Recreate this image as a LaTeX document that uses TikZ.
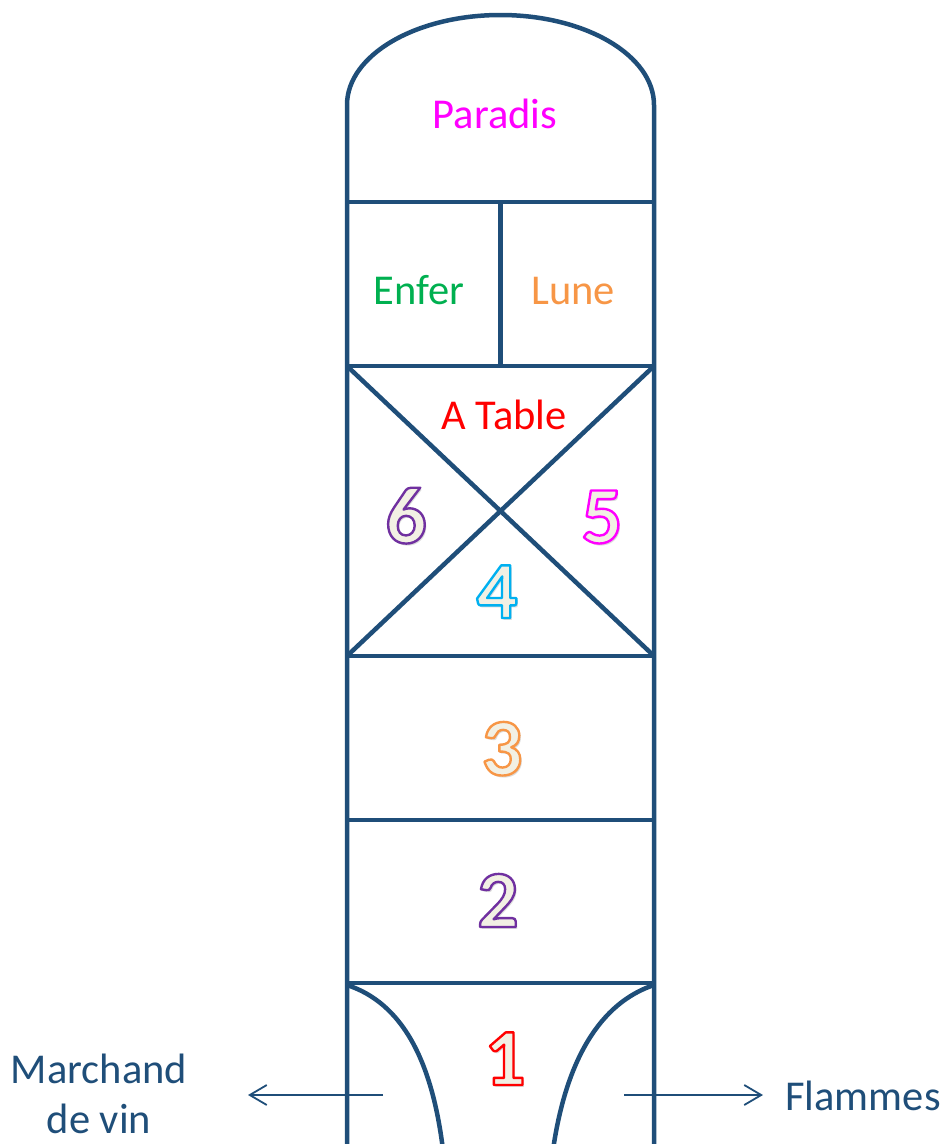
\documentclass[tikz,border=0pt]{standalone}
\usepackage{fontspec}
\setmainfont{Carlito}
\usetikzlibrary{calc,arrows.meta}
\definecolor{lineblue}{HTML}{1F4E79}
\definecolor{cream}{HTML}{F2F0E4}
\definecolor{cmag}{HTML}{FF00FF}
\definecolor{cgreen}{HTML}{00B050}
\definecolor{corange}{HTML}{F79646}
\definecolor{cred}{HTML}{FF0000}
\definecolor{cpurple}{HTML}{7030A0}
\definecolor{cblue}{HTML}{00B0F0}
\tikzset{
  frame/.style={draw=lineblue, line width=4.5pt, line join=round},
  lbl/.style={font=\fontsize{42.5}{50}\selectfont, anchor=base, inner sep=0pt},
  side/.style={font=\fontsize{42.5}{50}\selectfont, text=lineblue, align=center, inner sep=0pt},
  digit/.style={font=\bfseries\fontsize{81}{82}\selectfont, anchor=base, inner sep=0pt},
  thinarrow/.style={draw=lineblue, line width=1.8pt, -{Straight Barb[length=17pt,width=20pt]}}
}
% outlined text: stroke colour (rgb triple), fill colour cream
\newcommand\outl[2]{\special{pdf:code q 2 Tr 2.4 w 1 j #1 RG 0.949 0.941 0.894 rg}#2\special{pdf:code Q}}
\newcommand\odigit[5]{%
  \node[digit,text=black!14] at ($(#2)+(2,2)$) {#5};
  \node[digit] (#1) at (#2) {\outl{#4}{#5}};
}
\begin{document}
\begin{tikzpicture}[x=1pt,y=-1pt]
\path[use as bounding box] (0,0) rectangle (945,1144);
\begin{scope}
\clip (0,0) rectangle (945,1144);
% outer frame with arch
\draw[frame] (347,1150) -- (347,105) arc[start angle=180, end angle=360, x radius=153.5, y radius=90] -- (654,1150);
% cross lines
\draw[frame] (347,202) -- (654,202);
\draw[frame] (500.5,202) -- (500.5,366);
\draw[frame] (347,366) -- (654,366);
\draw[frame] (347,366) -- (654,656);
\draw[frame] (654,366) -- (347,656);
\draw[frame] (347,656) -- (654,656);
\draw[frame] (347,820) -- (654,820);
\draw[frame] (347,983) -- (654,983);
% flames curves
\draw[frame] (347,985) .. controls (402,1003) and (432,1060) .. (443,1150);
\draw[frame] (654,985) .. controls (600,1003) and (566,1060) .. (553,1150);
\end{scope}
% labels
\node[lbl,text=cmag] (paradis) at (495,128) {Paradis};
\node[lbl,text=cgreen] (enfer) at (419,304) {Enfer};
\node[lbl,text=corange] (lune) at (573,304) {Lune};
\node[lbl,text=cred] (table) at (504,429) {A Table};
% digits
\odigit{d6}{406,543}{cpurple}{0.439 0.188 0.627}{6}
\odigit{d5}{602,543}{cmag}{1 0 1}{5}
\odigit{d4}{497,618}{cblue}{0 0.69 0.941}{4}
\odigit{d3}{502,775}{corange}{0.969 0.588 0.275}{3}
\odigit{d2}{498,927}{cpurple}{0.439 0.188 0.627}{2}
\odigit{d1}{505,1085}{cred}{1 0 0}{1}
% side texts and arrows
\node[side,anchor=base,text depth=0pt] (vin) at (99,1133) {Marchand\\de vin};
\node[side,anchor=base] (flammes) at (863,1110) {Flammes};
\coordinate (la) at (383,1095);
\coordinate (lb) at (248,1095);
\coordinate (ra) at (624,1095);
\coordinate (rb) at (763,1095);
\draw[thinarrow] (la) -- (lb);
\draw[thinarrow] (ra) -- (rb);
\end{tikzpicture}
\end{document}
